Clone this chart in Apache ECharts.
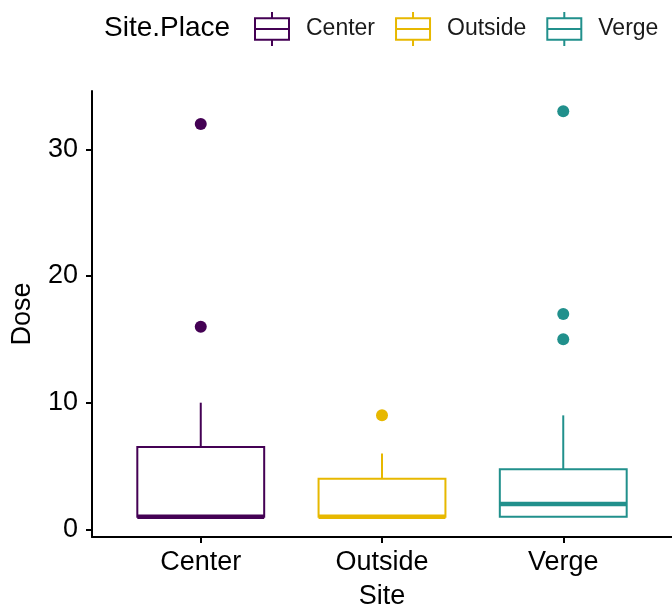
<!DOCTYPE html>
<html>
<head>
<meta charset="utf-8">
<script src="https://cdn.jsdelivr.net/npm/echarts@6/dist/echarts.min.js"></script>
<style>
  html, body { margin: 0; padding: 0; background: #fff; }
  #chart { width: 672px; height: 607px; }
</style>
</head>
<body>
<div id="chart"></div>
<script>
// Dose by site: five-number summaries and outlying points
const sites = ['Center', 'Outside', 'Verge'];
const lowerWhisker = [1, 1, 1];
const q1 = [1, 1, 1];
const median = [1, 1, 2];
const q3 = [6.5, 4, 4.75];
const upperWhisker = [10, 6, 9];
const centerOutliers = [16, 32];
const outsideOutliers = [9];
const vergeOutliers = [15, 17, 33];
const yTicks = [0, 10, 20, 30];

const outliers = [centerOutliers, outsideOutliers, vergeOutliers];
const colors = ['#440154', '#E7B800', '#21908C'];
const FONT = 'Liberation Sans, Arial, sans-serif';

// boxplot-style legend glyph: box, middle bar and two whiskers
const legendIcon = 'path://M0,6 L33,6 L33,27 L0,27 Z M0,16.5 L33,16.5 M16.5,0 L16.5,6 M16.5,27 L16.5,33';

function renderBox(color) {
  return function (params, api) {
    const x = api.value(0);
    const lo = api.coord([x, api.value(1)]);
    const b1 = api.coord([x, api.value(2)]);
    const med = api.coord([x, api.value(3)]);
    const b3 = api.coord([x, api.value(4)]);
    const hi = api.coord([x, api.value(5)]);
    const half = api.size([0.35, 0])[0];
    const cx = lo[0];
    const children = [];
    if (hi[1] < b3[1]) {
      children.push({ type: 'line', shape: { x1: cx, y1: b3[1], x2: cx, y2: hi[1] },
        style: { stroke: color, lineWidth: 2 } });
    }
    if (lo[1] > b1[1]) {
      children.push({ type: 'line', shape: { x1: cx, y1: b1[1], x2: cx, y2: lo[1] },
        style: { stroke: color, lineWidth: 2 } });
    }
    children.push({ type: 'rect',
      shape: { x: cx - half, y: b3[1], width: half * 2, height: b1[1] - b3[1] },
      style: { fill: '#fff', stroke: color, lineWidth: 2 } });
    children.push({ type: 'line',
      shape: { x1: cx - half, y1: med[1], x2: cx + half, y2: med[1] },
      style: { stroke: color, lineWidth: 4.5 } });
    return { type: 'group', children: children };
  };
}

const series = [];
sites.forEach(function (name, i) {
  series.push({
    name: name,
    type: 'custom',
    renderItem: renderBox(colors[i]),
    itemStyle: { color: colors[i] },
    encode: { x: 0, y: [1, 2, 3, 4, 5] },
    data: [[i + 1, lowerWhisker[i], q1[i], median[i], q3[i], upperWhisker[i]]],
    z: 2
  });
});
sites.forEach(function (name, i) {
  series.push({
    name: name,
    type: 'scatter',
    symbol: 'circle',
    symbolSize: 12,
    itemStyle: { color: colors[i], opacity: 1 },
    data: outliers[i].map(function (v) { return [i + 1, v]; }),
    z: 3
  });
});

const chart = echarts.init(document.getElementById('chart'), null, { renderer: 'canvas' });
chart.setOption({
  animation: false,
  backgroundColor: '#fff',
  textStyle: { fontFamily: FONT },
  title: {
    text: 'Site.Place',
    left: 104,
    top: 14,
    padding: 0,
    textStyle: { fontFamily: FONT, fontSize: 28, fontWeight: 'normal', color: '#000' }
  },
  legend: {
    left: 254,
    top: 11,
    padding: 0,
    itemWidth: 34,
    itemHeight: 34,
    itemGap: 20,
    selectedMode: false,
    textStyle: { fontFamily: FONT, fontSize: 23, color: '#1a1a1a', padding: [0, 0, 0, 12] },
    data: sites.map(function (name, i) {
      return {
        name: name,
        icon: legendIcon,
        itemStyle: { color: '#fff', borderColor: colors[i], borderWidth: 2 }
      };
    })
  },
  grid: { left: 92, right: 0, top: 91, bottom: 70, containLabel: false, outerBoundsMode: 'none' },
  xAxis: {
    type: 'value',
    min: 0.4,
    max: 3.6,
    name: 'Site',
    nameLocation: 'middle',
    nameGap: 46,
    nameTextStyle: { fontFamily: FONT, fontSize: 27, color: '#000' },
    splitLine: { show: false },
    axisLine: { show: true, onZero: false, lineStyle: { color: '#000', width: 2 } },
    axisTick: { show: true, length: 6, customValues: [1, 2, 3], lineStyle: { color: '#000', width: 2 } },
    axisLabel: {
      customValues: [1, 2, 3],
      margin: 12,
      fontFamily: FONT, fontSize: 27, color: '#000',
      formatter: function (v) { return sites[Math.round(v) - 1] || ''; }
    }
  },
  yAxis: {
    type: 'value',
    min: -0.6,
    max: 34.6,
    name: 'Dose',
    nameLocation: 'middle',
    nameGap: 56,
    nameRotate: 90,
    nameTextStyle: { fontFamily: FONT, fontSize: 27, color: '#000' },
    splitLine: { show: false },
    axisLine: { show: true, onZero: false, lineStyle: { color: '#000', width: 2 } },
    axisTick: { show: true, length: 6, customValues: yTicks, lineStyle: { color: '#000', width: 2 } },
    axisLabel: {
      customValues: yTicks,
      margin: 14,
      fontFamily: FONT, fontSize: 27, color: '#000'
    }
  },
  series: series
});
</script>
</body>
</html>
